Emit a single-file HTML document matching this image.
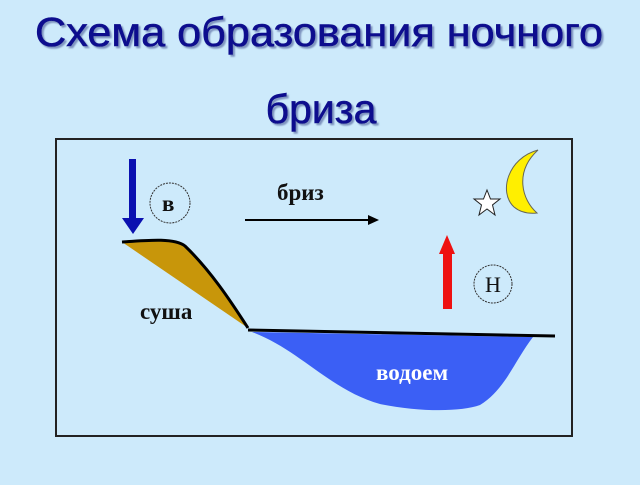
<!DOCTYPE html>
<html><head><meta charset="utf-8"><style>
html,body{margin:0;padding:0;background:#cdeafb;}
body{width:640px;height:480px;overflow:hidden;}
</style></head><body>
<svg width="640" height="480" viewBox="0 0 640 480" xmlns="http://www.w3.org/2000/svg">
<defs><filter id="sh"><feDropShadow dx="2" dy="2" stdDeviation="0.8" flood-color="#6a7fb0" flood-opacity="0.8"/></filter></defs>
<rect width="640" height="480" fill="#cdeafb"/>
<g font-family="Liberation Sans, sans-serif" font-size="41" fill="#0c0c8e" text-anchor="middle" filter="url(#sh)" stroke="#0c0c8e" stroke-width="0.6">
<text x="319" y="46" textLength="568" lengthAdjust="spacingAndGlyphs">Схема образования ночного</text>
<text x="321" y="123">бриза</text>
</g>
<rect x="56" y="139" width="516" height="297" fill="#cdeafb" stroke="#222" stroke-width="2"/>
<path d="M122,242 C150,240 175,238 185,246 C210,270 230,300 248,328 Z" fill="#c8960a"/>
<path d="M122,242 C150,240 175,238 185,246 C210,270 230,300 248,328" fill="none" stroke="#000" stroke-width="3"/>
<path d="M252,332 C300,350 330,390 380,404 C420,412 460,412 480,405 C505,390 515,360 533,337 Z" fill="#3b5ff5"/>
<line x1="248" y1="330" x2="555" y2="336" stroke="#000" stroke-width="3"/>
<rect x="129" y="159" width="7" height="62" fill="#0a10b0"/>
<polygon points="122,218 144,218 133,234" fill="#0a10b0"/>
<rect x="443" y="252" width="9" height="57" fill="#ee1111"/>
<polygon points="439,254 455,254 447,235" fill="#ee1111"/>
<line x1="245" y1="220" x2="370" y2="220" stroke="#000" stroke-width="2"/>
<polygon points="368,215 379,220 368,225" fill="#000"/>
<circle cx="170" cy="203" r="20" fill="none" stroke="#333" stroke-width="1" stroke-dasharray="2,1"/>
<circle cx="493" cy="284" r="19" fill="none" stroke="#333" stroke-width="1" stroke-dasharray="2,1"/>
<g font-family="Liberation Serif, serif" font-weight="bold" font-size="23" fill="#111">
<text x="162" y="211">в</text>
<text x="277" y="200">бриз</text>
<text x="140" y="319">суша</text>
<text x="376" y="380" fill="#fff">водоем</text>
</g>
<text x="493" y="292" text-anchor="middle" font-family="Liberation Serif, serif" font-size="22" fill="#111">Н</text>
<polygon points="487,190 490.5,199 500,199 492.5,205 495,215 487,209 479,215 481.5,205 474,199 483.5,199" fill="#fff" stroke="#222" stroke-width="1"/>
<path d="M538,150 C508,158 498,192 514,207 C520,212 528,214 537,213 C522,200 514,172 538,150 Z" fill="#ffef00" stroke="#665" stroke-width="1"/>
</svg>
</body></html>
